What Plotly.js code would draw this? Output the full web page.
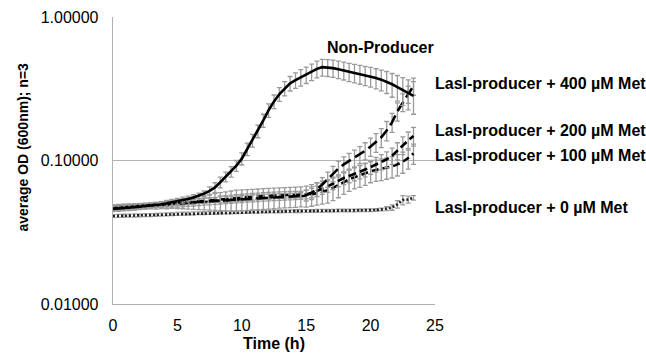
<!DOCTYPE html>
<html>
<head>
<meta charset="utf-8">
<script src="https://cdn.plot.ly/plotly-3.0.1.min.js"></script>
<style>
html,body{margin:0;padding:0;background:#fff;}
#chart{width:646px;height:356px;}
</style>
</head>
<body>
<div id="chart"></div>
<script>
// Time (h)
const times = [0,0.42,0.83,1.25,1.67,2.08,2.5,2.92,3.33,3.75,4.17,4.58,5,5.42,5.83,6.25,6.67,7.08,7.5,7.92,8.33,8.75,9.17,9.58,10,10.42,10.83,11.25,11.67,12.08,12.5,12.92,13.33,13.75,14.17,14.58,15,15.42,15.83,16.25,16.67,17.08,17.5,17.92,18.33,18.75,19.17,19.58,20,20.42,20.83,21.25,21.67,22.08,22.5,22.92,23.33];

const seriesNames = ["Non-Producer","LasI-producer + 400 µM Met","LasI-producer + 200 µM Met","LasI-producer + 100 µM Met","LasI-producer + 0 µM Met"];
const yTitle = "average OD (600nm); n=3";
const xTitle = "Time (h)";

const nonProducer = [0.046,0.0462,0.0465,0.0468,0.0472,0.0476,0.048,0.0485,0.049,0.0496,
0.0503,0.0511,0.052,0.053,0.054,0.0552,0.0567,0.0588,0.0615,0.065,
0.0705,0.077,0.0835,0.092,0.103,0.12,0.138,0.16,0.19,0.224,
0.258,0.29,0.318,0.345,0.363,0.38,0.396,0.415,0.435,0.447,
0.445,0.44,0.432,0.424,0.415,0.407,0.4,0.392,0.385,0.376,
0.366,0.355,0.34,0.325,0.31,0.295,0.282];
const nonProducerErr = [0.002,0.002,0.002,0.002,0.002,0.002,0.002,0.002,0.002,0.002,
0.0025,0.0025,0.0025,0.0025,0.0025,0.0025,0.0025,0.0025,
0.004,0.005,0.006,0.006,0.007,
0.008,0.01,0.012,0.014,
0.016,0.02,0.024,0.028,
0.032,0.036,0.04,0.045,0.05,0.052,0.055,0.058,
0.06,0.06,0.06,0.06,0.06,0.06,0.06,0.06,0.06,0.06,0.06,0.06,
0.062,0.064,0.066,0.068,0.07,0.072];

const met400 = [0.047,0.0472,0.0474,0.0476,0.0478,0.048,0.0483,0.0486,0.0489,0.0492,
0.0495,0.0499,0.0503,0.0506,0.0509,0.0512,0.0515,0.0518,0.0521,0.0524,
0.0527,0.053,0.0533,0.0536,0.0539,0.0542,0.0545,0.0548,0.0551,0.0553,
0.0555,0.0557,0.0559,0.0561,0.0563,0.0566,0.0572,0.0595,0.063,0.068,
0.074,0.081,0.088,0.094,0.099,0.104,0.11,0.117,0.125,0.134,
0.145,0.162,0.185,0.22,0.255,0.29,0.33];
const met400Err = [0.002,0.002,0.002,0.002,0.002,0.002,0.002,0.002,0.002,0.002,
0.003,0.003,0.003,0.003,0.003,0.003,0.003,0.003,0.003,0.003,0.003,0.003,0.003,
0.003,0.003,0.003,0.003,0.003,0.003,0.003,0.003,0.003,0.003,0.003,0.003,0.003,
0.005,0.006,0.007,0.008,0.009,0.01,0.011,0.012,0.013,0.014,
0.015,0.016,0.018,0.02,0.022,0.025,0.028,0.032,0.036,0.04,0.045];

const met200 = [0.0472,0.0474,0.0476,0.0478,0.048,0.0482,0.0485,0.0488,0.0491,0.0494,0.0497,0.0501,0.0505,0.0508,0.0512,
0.0516,0.052,0.0524,0.0528,0.0532,0.0536,0.054,0.0544,0.0548,0.0552,0.0556,0.056,0.0563,0.0566,0.0569,0.0572,0.0575,0.0577,0.0578,0.0579,0.058,
0.058,0.0595,0.0612,0.0635,0.066,0.069,0.0725,0.0755,0.078,0.0805,0.0835,0.0865,0.09,0.094,0.098,0.102,0.108,0.117,0.128,0.138,0.148];
const met200Err = [0.002,0.002,0.002,0.002,0.002,0.002,0.002,0.002,0.002,0.002,
0.002,0.002,0.002,0.002,0.002,0.002,0.002,0.002,0.002,0.002,
0.003,0.003,0.003,0.003,0.003,0.003,0.003,0.003,0.003,0.003,0.003,0.003,0.003,0.003,0.003,0.003,
0.004,0.0045,0.005,0.0055,0.006,0.0065,0.007,0.0075,0.008,0.0085,0.009,0.0095,0.01,0.011,0.012,0.013,0.014,0.016,0.018,0.02,0.022];

const met100 = [0.0465,0.0467,0.0469,0.0471,0.0473,0.0475,0.0478,0.0481,0.0484,0.0487,
0.049,0.0494,0.0498,0.0501,0.0504,0.0507,0.051,0.0513,0.0516,0.0519,
0.0522,0.0525,0.0528,0.0531,0.0534,0.0537,0.054,0.0543,0.0546,0.0549,
0.0552,0.0555,0.0558,0.056,0.0562,0.0565,
0.0568,0.058,0.0593,0.0607,0.062,0.0645,0.067,0.0705,0.074,0.0765,0.0785,0.081,0.084,0.086,0.0875,0.089,0.091,0.094,0.098,0.104,0.112];
const met100Err = [0.002,0.002,0.002,0.002,0.002,0.002,0.002,0.002,0.0025,0.0025,
0.003,0.003,0.0035,0.004,0.0045,0.005,0.0055,0.006,0.0065,0.007,
0.0075,0.008,0.0085,0.009,0.009,0.009,0.009,0.009,0.009,0.009,0.009,0.009,0.009,0.009,0.009,0.009,
0.0095,0.01,0.0105,0.011,0.0115,0.012,0.012,0.0125,0.013,0.013,0.0135,0.014,0.014,0.0145,0.015,0.015,0.0155,0.016,0.0165,0.017,0.018];

const met0 = [0.041,0.0411,0.0412,0.0413,0.0414,0.0415,0.0416,0.0417,0.0418,0.042,0.0421,0.0423,0.0425,
0.0426,0.0427,0.0428,0.0429,0.043,0.0431,0.0432,0.0433,0.0434,0.0435,0.0436,0.0438,
0.0439,0.044,0.044,0.0441,0.0441,0.0442,0.0442,0.0443,0.0443,0.0444,0.0444,0.0445,
0.0445,0.0446,0.0446,0.0447,0.0447,0.0448,0.0448,0.0449,0.0449,0.045,0.045,0.045,
0.0452,0.0456,0.0462,0.047,0.0495,0.053,0.0535,0.055];
const met0Err = [0.001,0.001,0.001,0.001,0.001,0.001,0.001,0.001,0.001,0.001,
0.001,0.001,0.001,0.001,0.001,0.001,0.001,0.001,0.001,0.001,
0.001,0.001,0.001,0.001,0.001,0.001,0.001,0.001,0.001,0.001,
0.001,0.001,0.001,0.001,0.001,0.001,0.001,0.001,0.001,0.001,
0.001,0.001,0.001,0.001,0.001,0.001,0.001,0.001,0.001,0.001,0.001,
0.0015,0.002,0.003,0.004,0.003,0.002];

const yTickVals = [0.01,0.1,1];
const yTickText = ["0.01000","0.10000","1.00000"];
const xTickVals = [0,5,10,15,20,25];

const ebar = (arr) => ({type:'data', array:arr, visible:true, color:'#9a9a9a', thickness:1.3, width:2.5});

const traces = [
  {x:times, y:met0, error_y:ebar(met0Err), mode:'lines', line:{color:'#222', width:2.6, dash:'2px,2px'}},
  {x:times, y:met100, error_y:ebar(met100Err), mode:'lines', line:{color:'#000', width:2.6, dash:'7px,4px'}},
  {x:times, y:met200, error_y:ebar(met200Err), mode:'lines', line:{color:'#000', width:2.6, dash:'8px,4px'}},
  {x:times, y:met400, error_y:ebar(met400Err), mode:'lines', line:{color:'#000', width:2.6, dash:'11px,5px'}},
  {x:times, y:nonProducer, error_y:ebar(nonProducerErr), mode:'lines', line:{color:'#000', width:2.6}}
];

const labelFont = {family:'"Liberation Sans", Arial, sans-serif', size:16, color:'#000'};
const annY = [-0.2105, -0.463, -0.791, -0.963, -1.3275];
const annotations = seriesNames.map((name,i) => (i===0 ?
  {x:20.73, y:annY[i], xref:'x', yref:'y', text:'<b>'+name+'</b>', showarrow:false, xanchor:'center', yanchor:'middle', font:labelFont} :
  {x:25, y:annY[i], xref:'x', yref:'y', text:'<b>'+name+'</b>', showarrow:false, xanchor:'left', yanchor:'middle', xshift:-2, font:labelFont}));
annotations.push({x:-0.2795, y:0.545, xref:'paper', yref:'paper', text:'<b>'+yTitle+'</b>', textangle:-90,
  showarrow:false, xanchor:'center', yanchor:'middle', font:{family:'"Liberation Sans", Arial, sans-serif', size:14, color:'#000'}});

const layout = {
  width:646, height:356,
  margin:{l:113, r:211, t:17, b:52},
  paper_bgcolor:'#fff', plot_bgcolor:'#fff',
  showlegend:false,
  font:{family:'"Liberation Sans", Arial, sans-serif', color:'#000'},
  xaxis:{
    range:[0,25], tickvals:xTickVals, showgrid:false, zeroline:false,
    showline:true, linecolor:'#b0b0b0', linewidth:1.3, ticks:'',
    tickfont:{size:16, color:'#000'}, ticklabelstandoff:6,
    title:{text:'<b>'+xTitle+'</b>', font:{size:16, color:'#000'}, standoff:5}
  },
  yaxis:{
    type:'log', range:[-2,0], tickvals:yTickVals, ticktext:yTickText,
    showgrid:true, gridcolor:'#b4b4b4', gridwidth:1.2, zeroline:false,
    showline:true, linecolor:'#b0b0b0', linewidth:1.3, ticks:'',
    tickfont:{size:16, color:'#000'}, ticklabelstandoff:10
  },
  annotations:annotations
};

Plotly.newPlot('chart', traces, layout, {staticPlot:true, displayModeBar:false});
</script>
</body>
</html>
